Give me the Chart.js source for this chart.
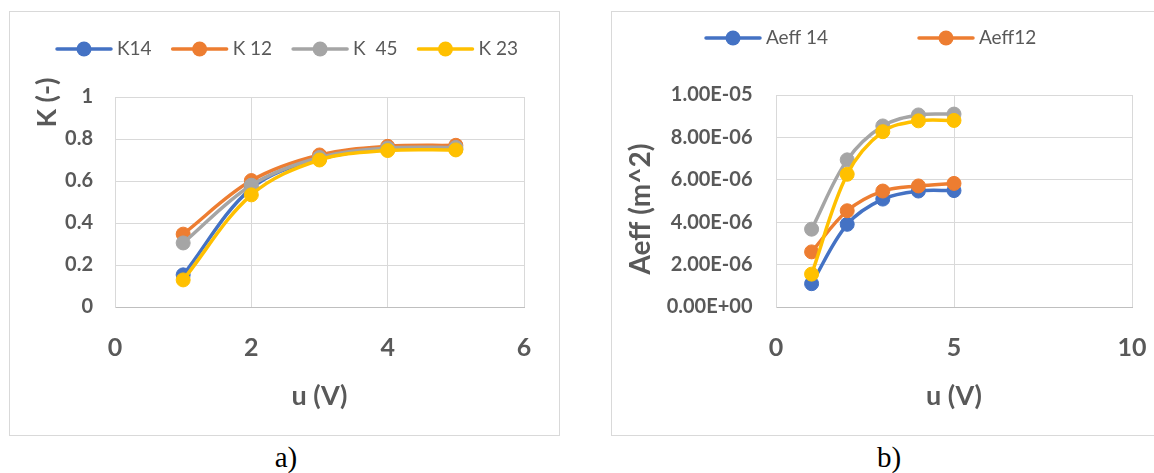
<!DOCTYPE html>
<html>
<head>
<meta charset="utf-8">
<script src="https://cdn.jsdelivr.net/npm/chart.js@4/dist/chart.umd.min.js"></script>
<style>
  html, body { margin: 0; padding: 0; background: #fff; width: 1154px; height: 473px; overflow: hidden; }
  .box { position: absolute; border: 1px solid #d9d9d9; box-sizing: border-box; background: #fff; }
  canvas { position: absolute; }
  .cap { position: absolute; font-family: "Liberation Serif", "Times New Roman", serif; font-size: 29px;
         line-height: 1; color: #000; text-align: center; width: 80px; }
</style>
</head>
<body>
<div class="box" style="left:9px; top:11px; width:551px; height:425px;"></div>
<div class="box" style="left:611px; top:11px; width:600px; height:425px;"></div>
<canvas id="chartK" width="549" height="423" style="left:10px; top:12px;"></canvas>
<canvas id="chartA" width="542" height="423" style="left:612px; top:12px;"></canvas>
<div class="cap" style="left:246px; top:443px;">a)</div>
<div class="cap" style="left:849px; top:443px;">b)</div>

<script>
// Applied voltage (V)
const voltage = [1, 2, 3, 4, 5];

// Coefficient K (-) per sample
const kLabels = ['K14', 'K 12', 'K  45', 'K 23'];
const k14 = [0.153, 0.565, 0.705, 0.750, 0.752];
const k12 = [0.347, 0.602, 0.724, 0.765, 0.770];
const k45 = [0.305, 0.580, 0.712, 0.757, 0.760];
const k23 = [0.129, 0.534, 0.700, 0.745, 0.748];

// Effective area Aeff (m^2) per sample
const aeffLabels = ['Aeff 14', 'Aeff12', 'Aeff 45', 'Aeff 23'];
const aeff14 = [1.10e-6, 3.90e-6, 5.09e-6, 5.47e-6, 5.49e-6];
const aeff12 = [2.60e-6, 4.54e-6, 5.47e-6, 5.71e-6, 5.83e-6];
const aeff45 = [3.67e-6, 6.94e-6, 8.54e-6, 9.06e-6, 9.10e-6];
const aeff23 = [1.55e-6, 6.26e-6, 8.27e-6, 8.78e-6, 8.80e-6];

// Axis ticks
const kXTicks = [0, 2, 4, 6];
const kYTicks = [0, 0.2, 0.4, 0.6, 0.8, 1];
const aXTicks = [0, 5, 10];
const aYTicks = [0, 2e-6, 4e-6, 6e-6, 8e-6, 1e-5];

const seriesColors = ['#4472C4', '#ED7D31', '#A5A5A5', '#FFC000'];
const textColor = '#595959';

// Excel-style scientific label, e.g. 8.00E-06
function sci(v) {
  const s = Number(v).toExponential(2).toUpperCase();
  const [m, e] = s.split('E');
  const sign = e[0] === '-' ? '-' : '+';
  const digits = e.replace(/^[+-]/, '').padStart(2, '0');
  return m + 'E' + sign + digits;
}

// Legend drawn as line + marker + label, like the spreadsheet legend
const lineLegend = {
  id: 'lineLegend',
  afterDraw(chart, args, opts) {
    const ctx = chart.ctx;
    ctx.save();
    ctx.font = opts.font;
    ctx.textBaseline = 'middle';
    ctx.textAlign = 'left';
    let x = opts.x;
    opts.items.forEach((idx, n) => {
      const ds = chart.data.datasets[idx];
      const x0 = opts.column ? opts.x + n * opts.column : x;
      ctx.strokeStyle = ds.borderColor;
      ctx.lineWidth = ds.borderWidth;
      ctx.lineCap = 'round';
      ctx.beginPath();
      ctx.moveTo(x0, opts.y);
      ctx.lineTo(x0 + opts.lineLength, opts.y);
      ctx.stroke();
      ctx.fillStyle = ds.pointBackgroundColor;
      ctx.beginPath();
      ctx.arc(x0 + opts.lineLength / 2, opts.y, ds.pointRadius + 0.5, 0, Math.PI * 2);
      ctx.fill();
      ctx.fillStyle = opts.color;
      const tx = x0 + opts.lineLength + opts.textGap;
      ctx.fillText(ds.label, tx, opts.y);
      x = tx + ctx.measureText(ds.label).width + opts.gap;
    });
    ctx.restore();
  }
};

// Rotated y-axis title placed freely beside the axis
const sideTitle = {
  id: 'sideTitle',
  afterDraw(chart, args, opts) {
    const ctx = chart.ctx;
    ctx.save();
    ctx.translate(opts.x, opts.y);
    ctx.rotate(-Math.PI / 2);
    ctx.font = opts.font;
    ctx.fillStyle = opts.color;
    ctx.textAlign = 'center';
    ctx.textBaseline = 'middle';
    ctx.fillText(opts.text, 0, 0);
    ctx.restore();
  }
};

function makeDatasets(labels, series) {
  return series.map((vals, i) => ({
    label: labels[i],
    data: vals.map((v, j) => ({ x: voltage[j], y: v })),
    borderColor: seriesColors[i],
    backgroundColor: seriesColors[i],
    pointBackgroundColor: seriesColors[i],
    pointBorderColor: seriesColors[i],
    pointBorderWidth: 1,
    pointRadius: 7,
    borderWidth: 3.5,
    tension: 0.35,
    fill: false,
    order: series.length - 1 - i
  }));
}

// Invisible tick marks push the labels down without widening the side padding
function axisX(ticks, max, height) {
  return {
    type: 'linear', min: 0, max: max,
    afterBuildTicks: s => { s.ticks = ticks.map(v => ({ value: v })); },
    afterFit: s => { s.height = height; },
    grid: { color: '#d9d9d9', lineWidth: 1, drawTicks: true, tickLength: 26, tickColor: 'rgba(0,0,0,0)' },
    border: { color: '#bfbfbf', width: 1 },
    ticks: { padding: 0, color: textColor, font: { size: 25, weight: 'bold' }, callback: v => String(v) },
    title: { display: true, text: 'u (V)', color: textColor, padding: { top: 0, bottom: 23 },
             font: { size: 27, weight: 'bold' } }
  };
}

function axisY(ticks, max, width, pad, fmt) {
  return {
    type: 'linear', min: 0, max: max,
    afterBuildTicks: s => { s.ticks = ticks.map(v => ({ value: v })); },
    afterFit: s => { s.width = width; },
    grid: { color: '#d9d9d9', lineWidth: 1, drawTicks: false },
    border: { color: '#d9d9d9', width: 1 },
    ticks: { padding: pad, color: textColor, font: { size: 20, weight: 'bold' }, callback: fmt }
  };
}

function build() {
  Chart.defaults.font.family = 'Lato';
  Chart.defaults.color = textColor;

  new Chart(document.getElementById('chartK'), {
    type: 'line',
    data: { datasets: makeDatasets(kLabels, [k14, k12, k45, k23]) },
    options: {
      responsive: false, animation: false, events: [],
      layout: { padding: { top: 85, right: 35, bottom: 0, left: 0 } },
      scales: {
        x: axisX(kXTicks, 6, 128),
        y: axisY(kYTicks, 1, 105, 22, v => String(v))
      },
      plugins: {
        legend: { display: false }, tooltip: { enabled: false },
        lineLegend: { items: [0, 1, 2, 3], x: 47, y: 37, lineLength: 54, textGap: 6, gap: 21,
                      font: '19px Lato', color: textColor },
        sideTitle: { text: 'K (-)', x: 37, y: 90.5, font: 'bold 27px Lato', color: textColor }
      }
    },
    plugins: [lineLegend, sideTitle]
  });

  new Chart(document.getElementById('chartA'), {
    type: 'line',
    data: { datasets: makeDatasets(aeffLabels, [aeff14, aeff12, aeff45, aeff23]) },
    options: {
      responsive: false, animation: false, events: [],
      layout: { padding: { top: 83, right: 22, bottom: 0, left: 0 } },
      scales: {
        x: axisX(aXTicks, 10, 128),
        y: axisY(aYTicks, 1e-5, 164, 23.5, v => sci(v))
      },
      plugins: {
        legend: { display: false }, tooltip: { enabled: false },
        lineLegend: { items: [0, 1], x: 94, y: 26, lineLength: 54, textGap: 6, gap: 21, column: 213,
                      font: '19px Lato', color: textColor },
        sideTitle: { text: 'Aeff (m^2)', x: 29, y: 197, font: 'bold 28px Lato', color: textColor }
      }
    },
    plugins: [lineLegend, sideTitle]
  });
}

if (document.fonts && document.fonts.load) {
  Promise.all([
    document.fonts.load('19px Lato'),
    document.fonts.load('bold 20px Lato')
  ]).then(build, build);
} else {
  build();
}
</script>
</body>
</html>
